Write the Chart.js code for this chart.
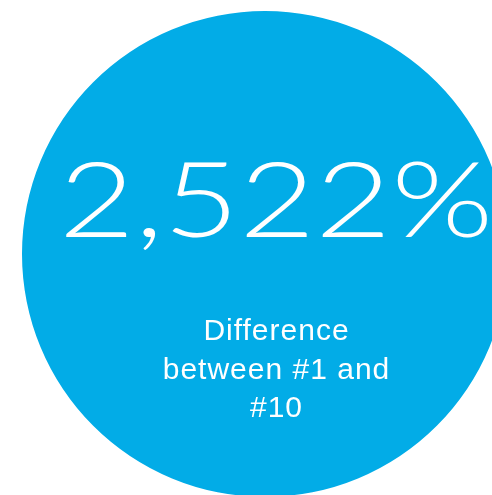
<!DOCTYPE html>
<html>
<head>
<meta charset="utf-8">
<script src="https://cdn.jsdelivr.net/npm/chart.js@4/dist/chart.umd.min.js"></script>
<style>
html,body{margin:0;padding:0;background:#fff;width:492px;height:495px;overflow:hidden;}
#wrap{position:absolute;left:22px;top:11px;width:486px;height:486px;}
</style>
</head>
<body>
<div id="wrap"><canvas id="c" width="486" height="486"></canvas></div>
<script>
const categories = ["Difference between #1 and #10"];
const values = [2522];
const valueLabel = "2,522%";
const captionLines = ["Difference", "between #1 and", "#10"];

const centerText = {
  id: 'centerText',
  afterDraw(chart) {
    const ctx = chart.ctx;
    const arc = chart.getDatasetMeta(0).data[0];
    const cx = arc.x + 11;
    ctx.save();
    ctx.fillStyle = '#ffffff';
    ctx.font = '300 104px Lato, "Open Sans", sans-serif';
    ctx.textAlign = 'left';
    ctx.textBaseline = 'alphabetic';
    const m = ctx.measureText(valueLabel);
    const L = m.actualBoundingBoxLeft, R = m.actualBoundingBoxRight;
    const s = 422 / (L + R);
    ctx.translate(cx, arc.y - 17);
    ctx.scale(s, 1);
    ctx.fillText(valueLabel, (L - R) / 2, 0);
    ctx.restore();

    ctx.save();
    ctx.fillStyle = '#ffffff';
    ctx.textAlign = 'center';
    ctx.textBaseline = 'alphabetic';
    ctx.font = '30px "Liberation Sans", Arial, sans-serif';
    ctx.letterSpacing = '1px';
    captionLines.forEach((t, i) => {
      ctx.fillText(t, cx + 0.5, arc.y + 86 + i * 38.5);
    });
    ctx.restore();
  }
};

new Chart(document.getElementById('c'), {
  type: 'pie',
  data: {
    labels: categories,
    datasets: [{
      data: values,
      backgroundColor: ['#02ACE7'],
      borderWidth: 0
    }]
  },
  options: {
    responsive: false,
    animation: false,
    layout: { padding: 0 },
    plugins: { legend: { display: false }, tooltip: { enabled: false } }
  },
  plugins: [centerText]
});
</script>
</body>
</html>
